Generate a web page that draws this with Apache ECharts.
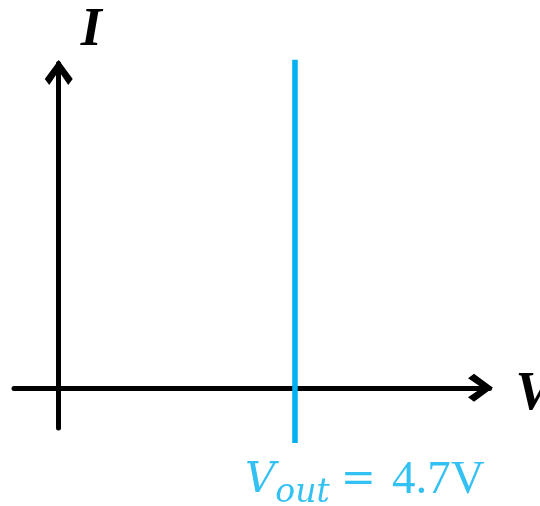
<!DOCTYPE html>
<html><head><meta charset="utf-8">
<script src="https://cdn.jsdelivr.net/npm/echarts@6/dist/echarts.min.js"></script>
<style>html,body{margin:0;padding:0;background:#fff}#c{width:540px;height:506px}</style>
</head><body><div id="c"></div>
<script>
// Data
const xRange = [-0.89, 8.57];    // V axis extent
const yRange = [-0.99, 8];       // I axis extent
const vOut = 4.7;                // output voltage (V)
const lineI = [8.09, -1.36];     // vertical extent of the Vout line
const axisNames = { x: 'V', y: 'I' };

const chevron = 'path://M14,0 L28,19 L23.5,25 L14,11 L4.5,25 L0,19 Z';
const blue = '#00B0F0';

const chart = echarts.init(document.getElementById('c'), null, { renderer: 'canvas' });
chart.setOption({
  animation: false,
  grid: { left: 14, right: 50.5, top: 63.5, bottom: 78, containLabel: false, outerBoundsMode: 'none' },
  xAxis: {
    type: 'value', min: xRange[0], max: xRange[1],
    name: axisNames.x, nameLocation: 'end', nameGap: 26,
    nameTextStyle: { fontFamily: 'Liberation Serif', fontStyle: 'italic', fontWeight: 'bold', fontSize: 54, color: '#000', verticalAlign: 'top', lineHeight: 14 },
    axisLine: { onZero: true, lineStyle: { color: '#000', width: 5 }, symbol: ['none', chevron], symbolSize: [28, 25], symbolOffset: [0, -9] },
    axisTick: { show: false }, axisLabel: { show: false }, splitLine: { show: false }
  },
  yAxis: {
    type: 'value', min: yRange[0], max: yRange[1],
    name: axisNames.y, nameLocation: 'end', nameGap: 5,
    nameTextStyle: { fontFamily: 'Liberation Serif', fontStyle: 'italic', fontWeight: 'bold', fontSize: 54, color: '#000', align: 'left', padding: [0, 0, 0, 22] },
    axisLine: { onZero: true, lineStyle: { color: '#000', width: 5 }, symbol: ['none', chevron], symbolSize: [28, 25], symbolOffset: [0, -9] },
    axisTick: { show: false }, axisLabel: { show: false }, splitLine: { show: false }
  },
  series: [{
    type: 'line',
    clip: false,
    symbol: 'none',
    lineStyle: { color: blue, width: 5.5 },
    data: lineI.map(v => [vOut, v])
  }, {
    type: 'scatter',
    clip: false,
    symbolSize: 0,
    data: [[vOut, lineI[1]]],
    label: {
      show: true, position: 'bottom', align: 'left', distance: 13, offset: [-50, 0],
      formatter: '{v|V}{s|out}{e|=}{n|' + vOut + 'V}',
      rich: {
        v: { fontFamily: 'DejaVu Serif', fontStyle: 'italic', fontSize: 42, color: blue, lineHeight: 50 },
        s: { fontFamily: 'DejaVu Serif', fontStyle: 'italic', fontSize: 33, color: blue, padding: [24, 0, 0, 0], lineHeight: 50 },
        e: { fontFamily: 'DejaVu Serif', fontSize: 42, color: blue, lineHeight: 50, padding: [0, 0, 0, 11] },
        n: { fontFamily: 'Liberation Serif', fontSize: 47, color: blue, lineHeight: 50, padding: [0, 0, 0, 16] }
      }
    }
  }]
});
</script></body></html>
